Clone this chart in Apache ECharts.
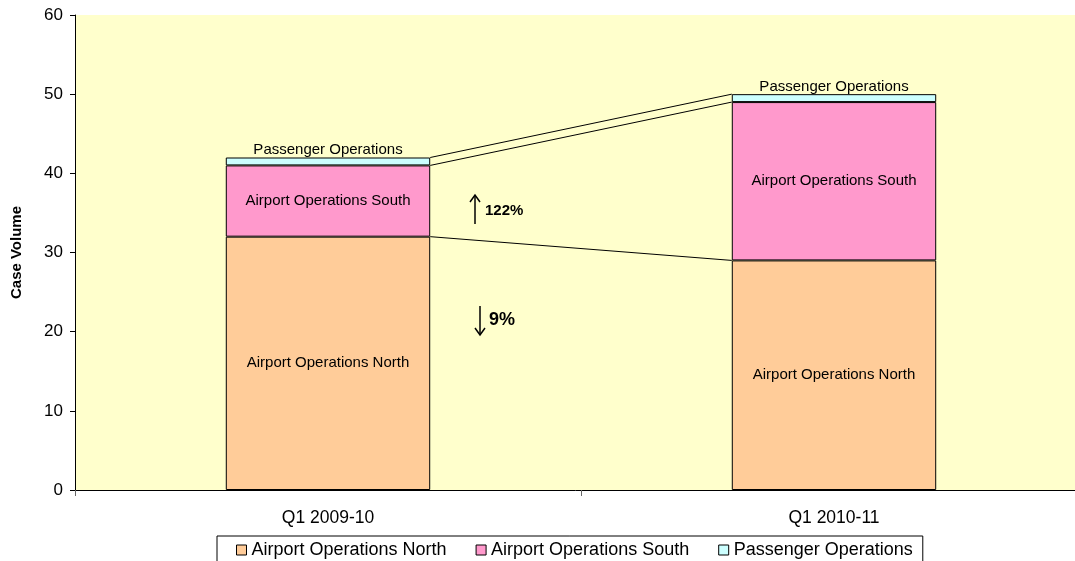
<!DOCTYPE html>
<html>
<head>
<meta charset="utf-8">
<script src="https://cdn.jsdelivr.net/npm/echarts@6/dist/echarts.min.js"></script>
<style>
  html, body { margin: 0; padding: 0; background: #fff; }
  #chart { width: 1075px; height: 561px; }
</style>
</head>
<body>
<div id="chart"></div>
<script>
var categories = ['Q1 2009-10', 'Q1 2010-11'];
var northValues = [32, 29];
var southValues = [9, 20];
var passengerValues = [1, 1];
var seriesNames = ['Airport Operations North', 'Airport Operations South', 'Passenger Operations'];
var yTicks = [0, 10, 20, 30, 40, 50, 60];

var FONT = '"Liberation Sans", Arial, sans-serif';
var BAR_RATIO = 0.404;

// stacked tops of each segment, used for the connector lines
var tops = [[], [], []];
for (var i = 0; i < categories.length; i++) {
    tops[0][i] = northValues[i];
    tops[1][i] = northValues[i] + southValues[i];
    tops[2][i] = northValues[i] + southValues[i] + passengerValues[i];
}
var connectorData = [];
for (var s = 0; s < tops.length; s++) {
    connectorData.push([0, tops[s][0], tops[s][1]]);
}

function barLabel(pos) {
    return {
        show: true,
        position: pos,
        distance: 0,
        color: '#000',
        fontFamily: FONT,
        fontSize: 15,
        formatter: function (p) { return p.seriesName; }
    };
}

var chart = echarts.init(document.getElementById('chart'));
chart.setOption({
    backgroundColor: '#fff',
    animation: false,
    textStyle: { fontFamily: FONT },
    grid: {
        show: true,
        left: 75, top: 15, width: 1012, height: 475,
        outerBoundsMode: 'none',
        containLabel: false,
        backgroundColor: '#FFFFCC',
        borderWidth: 0
    },
    legend: {
        data: seriesNames,
        left: 217,
        top: 536,
        icon: 'rect',
        itemWidth: 10,
        itemHeight: 10,
        itemGap: 29,
        padding: [5, 10, 5, 19],
        borderColor: '#000',
        borderWidth: 1,
        itemStyle: { borderColor: '#000', borderWidth: 1 },
        textStyle: { fontFamily: FONT, fontSize: 18, color: '#000' }
    },
    xAxis: {
        type: 'category',
        data: categories,
        axisLine: { lineStyle: { color: '#000', width: 1 } },
        axisTick: { show: true, length: 6, lineStyle: { color: '#666' } },
        axisLabel: { color: '#000', fontSize: 17.5, margin: 19, fontFamily: FONT }
    },
    yAxis: {
        type: 'value',
        min: yTicks[0],
        max: yTicks[yTicks.length - 1],
        interval: 10,
        name: 'Case Volume',
        nameLocation: 'middle',
        nameGap: 51,
        nameTextStyle: { fontWeight: 'bold', fontSize: 15, color: '#000', fontFamily: FONT },
        axisLine: { show: true, lineStyle: { color: '#000', width: 1 } },
        axisTick: { show: true, length: 5, lineStyle: { color: '#000' } },
        axisLabel: { color: '#000', fontSize: 17, margin: 12, fontFamily: FONT },
        splitLine: { show: false }
    },
    series: [
        {
            name: seriesNames[0],
            type: 'bar',
            stack: 'total',
            barWidth: (BAR_RATIO * 100) + '%',
            data: northValues,
            itemStyle: { color: '#FFCC99', borderColor: '#000', borderWidth: 1 },
            label: barLabel('inside')
        },
        {
            name: seriesNames[1],
            type: 'bar',
            stack: 'total',
            data: southValues,
            itemStyle: { color: '#FF99CC', borderColor: '#000', borderWidth: 1 },
            label: barLabel('inside')
        },
        {
            name: seriesNames[2],
            type: 'bar',
            stack: 'total',
            data: passengerValues,
            itemStyle: { color: '#CCFFFF', borderColor: '#000', borderWidth: 1 },
            label: barLabel('top')
        },
        {
            // series lines between the two stacked bars
            type: 'custom',
            silent: true,
            z: 3,
            data: connectorData,
            encode: { x: 0, y: 1 },
            renderItem: function (params, api) {
                var c = api.value(0);
                var p1 = api.coord([c, api.value(1)]);
                var p2 = api.coord([c + 1, api.value(2)]);
                var half = api.size([1, 0])[0] * BAR_RATIO / 2;
                return {
                    type: 'line',
                    shape: { x1: p1[0] + half, y1: p1[1], x2: p2[0] - half, y2: p2[1] },
                    style: { stroke: '#000', lineWidth: 1 }
                };
            }
        }
    ],
    graphic: [
        // up arrow + 122%
        { type: 'line', shape: { x1: 475, y1: 196, x2: 475, y2: 224 }, style: { stroke: '#000', lineWidth: 1.5 } },
        { type: 'polyline', shape: { points: [[470, 202], [475, 195], [480, 202]] }, style: { stroke: '#000', lineWidth: 1.5, fill: null } },
        { type: 'text', left: 485, top: 203, style: { text: '122%', font: 'bold 15px ' + FONT, fill: '#000' } },
        // down arrow + 9%
        { type: 'line', shape: { x1: 480, y1: 306, x2: 480, y2: 334 }, style: { stroke: '#000', lineWidth: 1.5 } },
        { type: 'polyline', shape: { points: [[475, 328], [480, 335], [485, 328]] }, style: { stroke: '#000', lineWidth: 1.5, fill: null } },
        { type: 'text', left: 489, top: 311, style: { text: '9%', font: 'bold 18px ' + FONT, fill: '#000' } }
    ]
});
</script>
</body>
</html>
